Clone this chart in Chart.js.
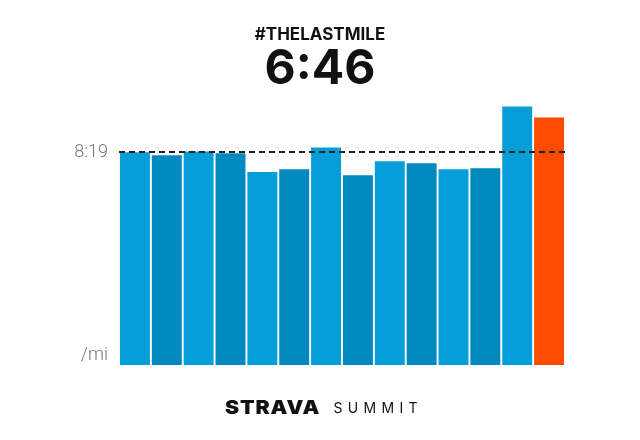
<!DOCTYPE html>
<html>
<head>
<meta charset="utf-8">
<title>#THELASTMILE</title>
<script src="https://cdn.jsdelivr.net/npm/chart.js@4.4.1/dist/chart.umd.min.js"></script>
<style>
  html, body { margin: 0; padding: 0; background: #fff; }
  #wrap { position: relative; width: 640px; height: 440px; }
  .footer {
    position: absolute; left: 4px; right: -4px; top: 397px; height: 22px; line-height: 22px;
    display: flex; justify-content: center; align-items: center; gap: 18px;
    color: #111;
  }
  .footer .brand {
    font-family: Inter, sans-serif; font-weight: 900; font-size: 19px;
    letter-spacing: 0.8px; transform: scaleX(1.12);
  }
  .footer .event {
    font-family: Inter, sans-serif; font-weight: 400; font-size: 14px;
    letter-spacing: 5.3px; margin-right: -5.3px;
  }
</style>
</head>
<body>
<div id="wrap">
  <canvas id="split-chart" width="640" height="440"></canvas>
  <div class="footer"><span class="brand">STRAVA</span><span class="event">SUMMIT</span></div>
</div>
<script>
// Chart data
const miles = ['1', '2', '3', '4', '5', '6', '7', '8', '9', '10', '11', '12', '13', '14'];
const splitPaces = ['8:19', '8:26', '8:17', '8:21', '9:10', '9:02', '8:08', '9:19', '8:41', '8:46', '9:02', '8:59', '6:51', '7:09'];
const avgPace = '8:19';
const lastMilePace = '6:46';
const hashtag = '#THELASTMILE';
const paceUnit = '/mi';

const colors = {
  light: '#069ed8',
  dark: '#0089be',
  last: '#fc4c02',
};

/**
 * Turns a "m:ss" pace into speed (mph), so faster miles give taller bars
 * @param {string} pace
 */
function paceToSpeed(pace) {
  const [min, sec] = pace.split(':').map((n) => parseInt(n, 10));
  return 3600 / (min * 60 + sec);
}

const speeds = splitPaces.map(paceToSpeed);
const avgSpeed = paceToSpeed(avgPace);

// Alternate the blues, highlight the last mile
const barColors = speeds.map((s, i) => {
  if (i === speeds.length - 1) { return colors.last; }
  return i % 2 === 0 ? colors.light : colors.dark;
});

const canvas = document.getElementById('split-chart');

const chart = new Chart(canvas.getContext('2d'), {
  type: 'bar',
  data: {
    labels: miles,
    datasets: [{
      data: speeds,
      backgroundColor: barColors,
      borderWidth: 0,
      categoryPercentage: 1,
      barPercentage: 0.94,
    }],
  },
  options: {
    responsive: false,
    animation: false,
    layout: {
      // same padding both sides so the titles stay centred on the page
      padding: { left: 75, right: 75, top: 0, bottom: 74 },
    },
    plugins: {
      legend: { display: false },
      tooltip: { enabled: false },
      title: {
        display: true,
        text: hashtag,
        color: '#111',
        font: { family: 'Inter', size: 17, weight: 'bold', lineHeight: 1.2 },
        padding: { top: 25, bottom: 0 },
      },
      subtitle: {
        display: true,
        text: lastMilePace,
        color: '#111',
        font: { family: 'Inter', size: 48, weight: 'bold', lineHeight: 1 },
        padding: { top: 0, bottom: 6 },
      },
    },
    scales: {
      x: { display: false },
      y: {
        min: 0,
        max: 9,
        afterFit: (scale) => { scale.width = 44; },
        afterBuildTicks: (scale) => {
          scale.ticks = [{ value: 0 }, { value: avgSpeed }];
        },
        ticks: {
          padding: 11,
          color: '#76767c',
          font: { family: 'Roboto', size: 18, weight: '300' },
          callback: (value) => (value === 0 ? [paceUnit, ''] : avgPace),
        },
        grid: {
          z: 1,
          drawTicks: false,
          lineWidth: 2,
          color: (ctx) => (ctx.tick && ctx.tick.value === avgSpeed ? '#222' : 'transparent'),
        },
        border: { display: false, dash: [6, 4] },
      },
    },
  },
});
</script>
</body>
</html>
